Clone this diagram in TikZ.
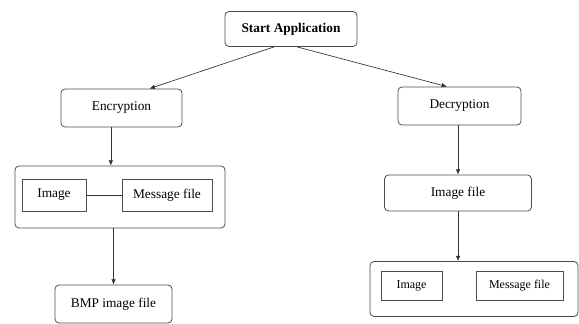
\documentclass[tikz,border=0pt]{standalone}
\usepackage{fontspec}
\setmainfont{Liberation Serif}
\usetikzlibrary{arrows.meta}

\tikzset{
  stepbox/.style={draw=black!70, line width=0.6pt, rounded corners=3pt, inner sep=0pt, align=center},
  filebox/.style={draw=black!70, line width=0.6pt, inner sep=0pt, align=center},
  flow/.style={draw=black!80, line width=0.5pt, -{Latex[length=4pt,width=3.5pt]}}
}

\begin{document}
\begin{tikzpicture}[x=0.75pt,y=-0.75pt]
    \useasboundingbox (0,0) rectangle (579,324);

    % Start
    \node[stepbox, minimum width=99pt, minimum height=26.25pt, font=\bfseries] (start) at (291,29) {Start Application};

    % Encryption branch
    \node[stepbox, minimum width=90.75pt, minimum height=28.5pt] (enc) at (121.5,108) {Encryption};
    \node[stepbox, minimum width=157.5pt, minimum height=46.5pt] (encgroup) at (120,197) {};
    \node[filebox, minimum width=48pt, minimum height=24pt] (encimg) at (54,195) {Image};
    \node[filebox, minimum width=67.5pt, minimum height=24pt] (encmsg) at (167,195) {Message file};
    \node[stepbox, minimum width=87.75pt, minimum height=28.5pt] (bmp) at (113.5,304) {BMP image file};

    % Decryption branch
    \node[stepbox, minimum width=92.25pt, minimum height=28.5pt] (dec) at (459.5,106) {Decryption};
    \node[stepbox, minimum width=110.25pt, minimum height=27pt] (imgfile) at (458,193) {Image file};
    \node[stepbox, minimum width=156pt, minimum height=41.25pt] (decgroup) at (474,289) {};
    \node[filebox, minimum width=45.75pt, minimum height=21.75pt, font=\small] (decimg) at (411.5,285.5) {Image};
    \node[filebox, minimum width=65.25pt, minimum height=21.75pt, font=\small] (decmsg) at (519.5,285.5) {Message file};

    % Connectors
    \draw[flow] ([xshift=-12.75pt]start.south) -- ([xshift=21pt]enc.north);
    \draw[flow] ([xshift=4.5pt]start.south) -- ([xshift=-9.4pt]dec.north);
    \draw[flow] ([xshift=-8pt]enc.south) -- ([xshift=-8pt]enc.south |- encgroup.north);
    \draw[flow] (bmp.north |- encgroup.south) -- (bmp.north);
    \draw[draw=black!80, line width=0.5pt] (encimg) -- (encmsg);
    \draw[flow] (imgfile.north |- dec.south) -- (imgfile.north);
    \draw[flow] (imgfile.south) -- (imgfile.south |- decgroup.north);
\end{tikzpicture}
\end{document}
